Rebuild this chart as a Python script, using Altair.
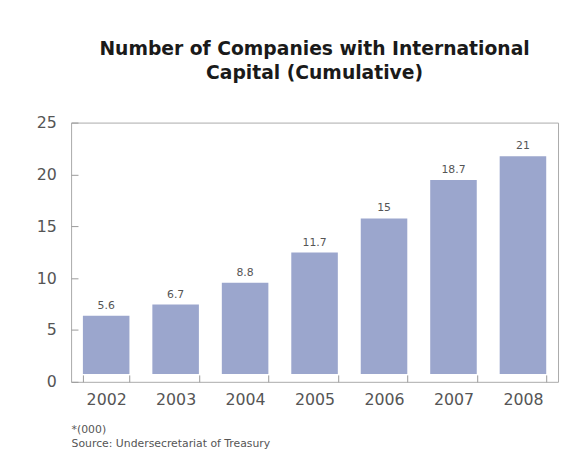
import altair as alt
import pandas as pd

years = ["2002", "2003", "2004", "2005", "2006", "2007", "2008"]
values = [5.6, 6.7, 8.8, 11.7, 15, 18.7, 21]
labels = ["5.6", "6.7", "8.8", "11.7", "15", "18.7", "21"]
y_ticks = [0, 5, 10, 15, 20, 25]

df = pd.DataFrame({"year": years, "value": values, "label": labels})

x = alt.X("year:N", sort=years, title=["*(000)", "Source: Undersecretariat of Treasury"],
          scale=alt.Scale(paddingInner=0.33, paddingOuter=0.17),
          axis=alt.Axis(labelAngle=0, domain=False, offset=-7, tickSize=7, tickBand="extent",
                        tickColor="#999999", labelPadding=10, labelFontSize=16,
                        labelColor="#555555", labelFont="DejaVu Sans",
                        titleAnchor="start", titleAlign="left", titleFontSize=11,
                        titleFontWeight="normal", titleColor="#555555", titleFont="DejaVu Sans",
                        titleLineHeight=15, titlePadding=16))
y = alt.Y("value:Q", title=None,
          scale=alt.Scale(domain=[0, 25], nice=False),
          axis=alt.Axis(values=y_ticks, domain=False, grid=False, offset=-7, tickSize=7,
                        tickColor="#999999", labelPadding=15, labelFontSize=16,
                        labelColor="#555555", labelFont="DejaVu Sans"))

bars = alt.Chart(df).mark_bar(color="#9ba6cd", yOffset=-8).encode(x=x, y=y)
text = alt.Chart(df).mark_text(baseline="bottom", yOffset=-13, fontSize=11,
                               color="#555555", font="DejaVu Sans").encode(
    x=alt.X("year:N", sort=years), y="value:Q", text="label:N")

chart = alt.layer(bars, text).properties(
    width=494, height=263,
    autosize="none",
    padding={"left": 64, "top": 113, "right": 2, "bottom": 72},
    title=alt.TitleParams(["Number of Companies with International", "Capital (Cumulative)"],
                          font="DejaVu Sans", fontSize=19, fontWeight="bold",
                          color="#1a1a1a", lineHeight=25, offset=32, anchor="middle"),
).configure_view(stroke="#aaaaaa", strokeWidth=1)

chart.save("out.html", embed_options={"renderer": "svg", "actions": False})
